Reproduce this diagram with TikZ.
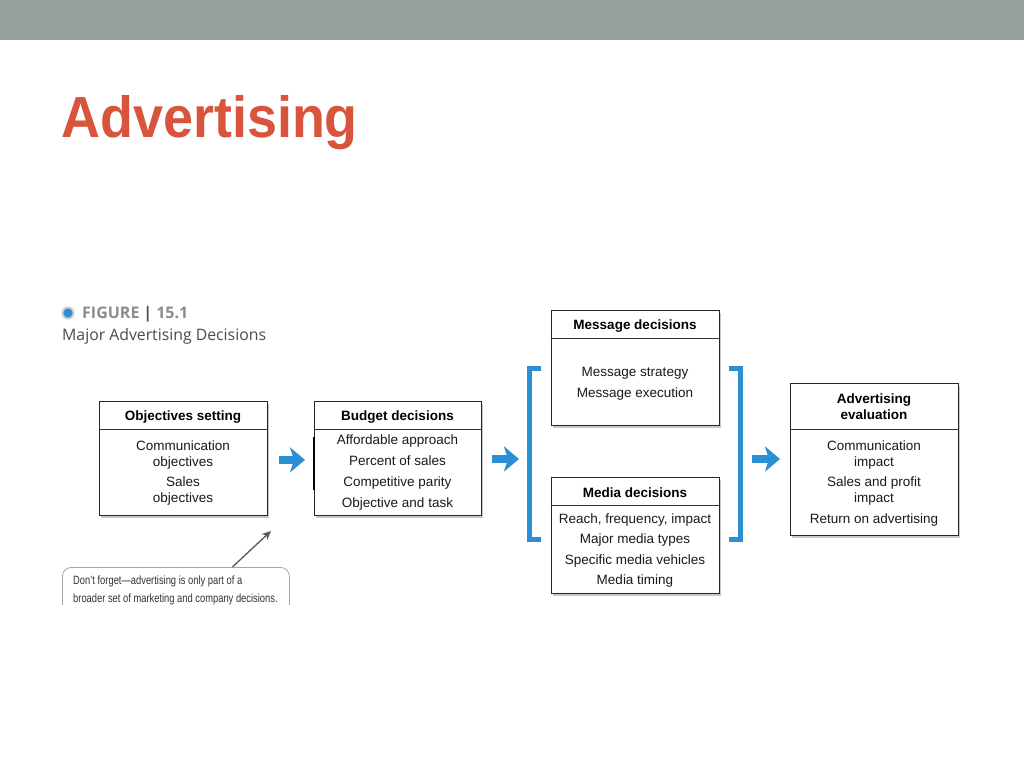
\documentclass[tikz,border=0pt]{standalone}
\usepackage{fontspec}
\setmainfont{Liberation Sans}
\newfontfamily\narrowfont[FakeStretch=0.78]{Liberation Sans}
\newfontfamily\titlefont[FakeStretch=0.93]{Liberation Sans}
\newfontfamily\figfont{Open Sans}
\usetikzlibrary{arrows.meta,shadows}
\definecolor{barcol}{RGB}{147,161,154}
\definecolor{titlecol}{RGB}{216,84,60}
\definecolor{bluec}{RGB}{43,143,212}
\definecolor{figgray}{RGB}{140,140,140}
\definecolor{figdark}{RGB}{75,75,75}
\tikzset{
  box/.style={draw=black!85, line width=0.8pt, fill=white, inner sep=0pt, anchor=north west,
    drop shadow={shadow xshift=1.5pt, shadow yshift=-2.5pt, opacity=0.22, fill=black}},
  divider/.style={draw=black!80, line width=0.7pt},
  hdr/.style={font=\bfseries\fontsize{13.5}{16}\selectfont, align=center, inner sep=0pt},
  body/.style={font=\fontsize{13.5}{16}\selectfont, align=center, inner sep=0pt, text=black!90},
  flow/.style={draw=bluec, line width=8.5pt, -{Stealth[length=15pt,width=25pt,inset=4pt]}},
  bracket/.style={draw=bluec, line width=5pt, line join=miter},
}
\begin{document}
\begin{tikzpicture}[x=1pt,y=-1pt]
\useasboundingbox (0,0) rectangle (1024,768);
\fill[white] (0,0) rectangle (1024,768);
% top bar
\fill[barcol] (0,0) rectangle (1024,40);
% title
\node[anchor=base west, inner sep=0pt, text=titlecol, font=\titlefont\bfseries\fontsize{58}{60}\selectfont] (title) at (61,137) {Advertising};
% figure label
\fill[gray!40] (68,313) circle (6.5pt);
\fill[bluec] (68,313) circle (4.6pt);
\node[anchor=west, inner sep=0pt, text=figgray, font=\figfont\bfseries\fontsize{16}{18}\selectfont] (figlab) at (82,314) {FIGURE\hspace{4pt}\textcolor{figdark}{|}\hspace{4pt}15.1};
\node[anchor=west, inner sep=0pt, text=figdark, font=\figfont\fontsize{15.8}{18}\selectfont] (figcap) at (62,336) {Major Advertising Decisions};

% boxes
\node[box, minimum width=168pt, minimum height=114pt] (obj) at (99,401) {};
\draw[divider] ([yshift=-28pt]obj.north west) -- ([yshift=-28pt]obj.north east);
\node[hdr] (objh) at (183,417) {Objectives setting};
\node[body] (objb) at (183,473) {Communication\\objectives\\[4pt]Sales\\objectives};

\node[box, minimum width=167pt, minimum height=114pt] (bud) at (314,401) {};
\draw[divider] ([yshift=-28pt]bud.north west) -- ([yshift=-28pt]bud.north east);
\draw[line width=2.2pt] ([yshift=-36pt]bud.north west) -- ([yshift=-89pt]bud.north west);
\node[hdr] (budh) at (397.5,417) {Budget decisions};
\node[body, font=\fontsize{13.5}{21}\selectfont] (budb) at (397.5,472.5) {Affordable approach\\Percent of sales\\Competitive parity\\Objective and task};

\node[box, minimum width=168pt, minimum height=115pt] (msg) at (551,310) {};
\draw[divider] ([yshift=-28pt]msg.north west) -- ([yshift=-28pt]msg.north east);
\node[hdr] (msgh) at (635,326) {Message decisions};
\node[body, font=\fontsize{13.5}{21}\selectfont] (msgb) at (635,383.5) {Message strategy\\Message execution};

\node[box, minimum width=168pt, minimum height=116pt] (med) at (551,477) {};
\draw[divider] ([yshift=-28pt]med.north west) -- ([yshift=-28pt]med.north east);
\node[hdr] (medh) at (635,493) {Media decisions};
\node[body, font=\fontsize{13.5}{20.5}\selectfont] (medb) at (635,550.5) {Reach, frequency, impact\\Major media types\\Specific media vehicles\\Media timing};

\node[box, minimum width=168pt, minimum height=152pt] (eva) at (790,383) {};
\draw[divider] ([yshift=-46pt]eva.north west) -- ([yshift=-46pt]eva.north east);
\node[hdr] (evah) at (874,407) {Advertising\\evaluation};
\node[body] (evab) at (874,483.5) {Communication\\impact\\[4pt]Sales and profit\\impact\\[5pt]Return on advertising};

% brackets
\draw[bracket] (541,368) -- (529.5,368) -- (529.5,539) -- (541,539);
\draw[bracket] (729,368) -- (740.5,368) -- (740.5,539) -- (729,539);
\coordinate (lb) at (527,459);
\coordinate (rb) at (743,459);

% flow arrows
\draw[flow, shorten <=11pt, shorten >=9pt] ([yshift=-1.5pt]obj.east) -- ([yshift=-1.5pt]bud.west);
\draw[flow, shorten <=10pt, shorten >=8pt] (bud.east |- lb) -- (lb);
\draw[flow, shorten <=9pt, shorten >=10pt] (rb) -- (eva.west |- rb);

% note box
\begin{scope}
\clip (0,0) rectangle (1024,604);
\node[draw=gray!70, line width=0.8pt, rounded corners=9pt, anchor=north west, minimum width=227pt, minimum height=60pt, inner sep=0pt] (note) at (62,567) {};
\node[anchor=north west, inner sep=0pt, align=left, text=black!80, font=\narrowfont\fontsize{12}{18}\selectfont] (notet) at (73,576) {Don’t forget—advertising is only part of a\\broader set of marketing and company decisions.};
\end{scope}
\coordinate (notetip) at (271,531);
\draw[draw=black!65, line width=1.3pt, -{Stealth[length=9pt,width=8pt]}] ([xshift=56.5pt]note.north) -- (notetip);
\end{tikzpicture}
\end{document}
